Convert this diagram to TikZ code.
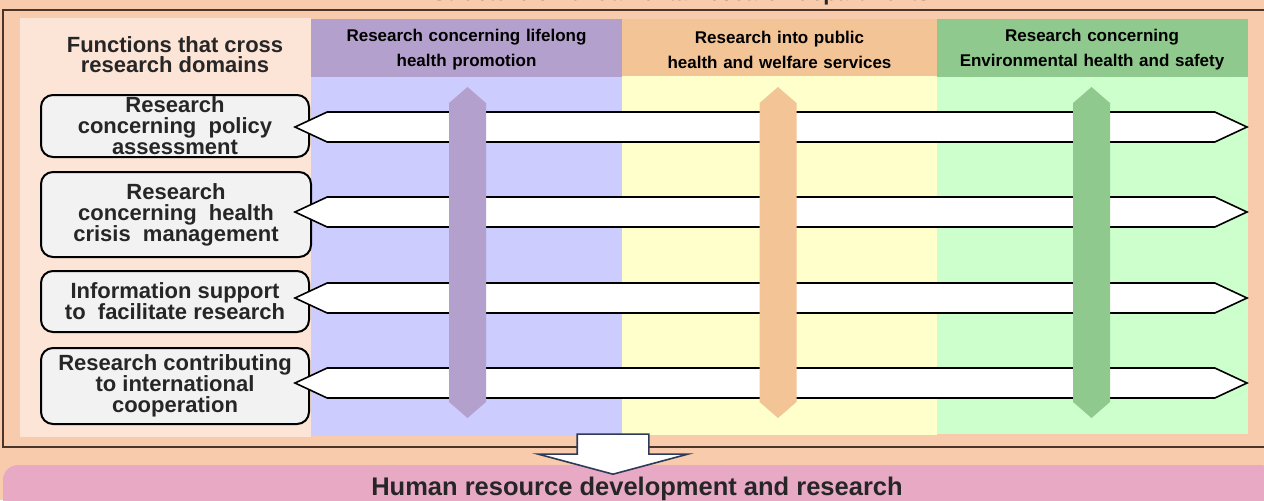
\documentclass[tikz,border=0pt]{standalone}
\usepackage{fontspec}
\setmainfont{Liberation Sans}
\usetikzlibrary{shapes.arrows}

\definecolor{peach}{HTML}{F8CBAD}
\definecolor{leftbg}{HTML}{FCE4D6}
\definecolor{purphead}{HTML}{B4A0CC}
\definecolor{purpbody}{HTML}{CCCCFF}
\definecolor{orahead}{HTML}{F2C496}
\definecolor{yelbody}{HTML}{FFFFCC}
\definecolor{grnhead}{HTML}{8FC98D}
\definecolor{grnbody}{HTML}{CCFFCC}
\definecolor{boxgray}{HTML}{F2F2F2}
\definecolor{pinkc}{HTML}{E8A9C4}
\definecolor{navy}{HTML}{2E3A59}
\definecolor{framec}{HTML}{4A3528}
\definecolor{txtgray}{HTML}{262626}

\begin{document}
\begin{tikzpicture}[x=0.5pt, y=-0.5pt, every node/.style={font=\bfseries},
  hdr/.style={align=center, text width=150pt, font=\fontsize{8.5}{12.5}\selectfont\bfseries},
  fnbox/.style={draw, line width=1pt, rounded corners=6pt, fill=boxgray, text=txtgray, align=center,
    inner sep=0pt, font=\fontsize{11}{10.5}\selectfont\bfseries},
  hbar/.style={double arrow, draw, line width=0.8pt, fill=white, inner sep=0pt, minimum width=15pt,
    minimum height=476pt, double arrow head extend=0pt, double arrow tip angle=50},
  vbar/.style={double arrow, shape border rotate=90, inner sep=0pt, minimum width=18.5pt,
    minimum height=165.5pt, double arrow head extend=0pt, double arrow tip angle=98}]
\useasboundingbox (0,0) rectangle (1264,500);
\fill[peach] (0,0) rectangle (1264,500);
% title, cut off by the top edge
\node[anchor=base, text=txtgray, font=\fontsize{11}{13}\selectfont\bfseries] (title) at (681,0.5)
  {Structure of fundamental research departments};
\draw[framec, line width=0.65pt] (1275,10) -- (3,10) -- (3,447) -- (1275,447);
% panels
\fill[leftbg] (20,18) rectangle (311,437);
\fill[purpbody] (311,77) rectangle (622,436);
\fill[yelbody] (622,76) rectangle (937,435);
\fill[grnbody] (937,77) rectangle (1248,434);
\fill[purphead] (311,19) rectangle (622,77);
\fill[orahead] (622,19) rectangle (937,76);
\fill[grnhead] (937,19) rectangle (1248,77);
\node[text=txtgray, align=center, font=\fontsize{11}{10}\selectfont\bfseries] (cross) at (175,55)
  {Functions that cross\\research domains};
% cross-domain functions
\node[fnbox, minimum width=134pt, minimum height=31pt] (policy) at (175,126)
  {Research\\concerning\ \ policy\\assessment};
\node[fnbox, minimum width=135pt, minimum height=42.5pt] (crisis) at (176,214.5)
  {Research\\concerning\ \ health\\crisis\ \ management};
\node[fnbox, minimum width=134pt, minimum height=30.5pt] (info) at (175,301.5)
  {Information support\\to\ \ facilitate research};
\node[fnbox, minimum width=134pt, minimum height=38pt] (intl) at (175,386)
  {Research contributing\\to international\\cooperation};
\foreach \n/\y in {a/127, b/212, c/298, d/383}
  \node[hbar] (arr\n) at (771,\y) {};
\node[vbar, fill=purphead] (vpurp) at (467.5,252.5) {};
\node[vbar, fill=orahead] (vora) at (778,252.5) {};
\node[vbar, fill=grnhead] (vgrn) at (1091.5,252.5) {};
% domain headers
\node[hdr] (hpurp) at (466.5,49.5) {Research concerning lifelong\\health promotion};
\node[hdr] (hora) at (779.5,49.5) {Research into public\\health and welfare services};
\node[hdr] (hgrn) at (1092,49.5) {Research concerning\\Environmental health and safety};
% bottom
\fill[pinkc, rounded corners=7.5pt] (3,465) rectangle (1275,530);
\node[anchor=base, text=txtgray, font=\fontsize{12.75}{15}\selectfont\bfseries] (hrd) at (637,495)
  {Human resource development and research};
\node[single arrow, shape border rotate=270, draw=navy, line width=0.8pt, fill=white,
  inner xsep=17.5pt, inner ysep=0pt, minimum width=74pt, minimum height=20pt,
  single arrow head extend=19.5pt, single arrow tip angle=150, anchor=tip] (down) at (613,475) {};
\end{tikzpicture}
\end{document}
